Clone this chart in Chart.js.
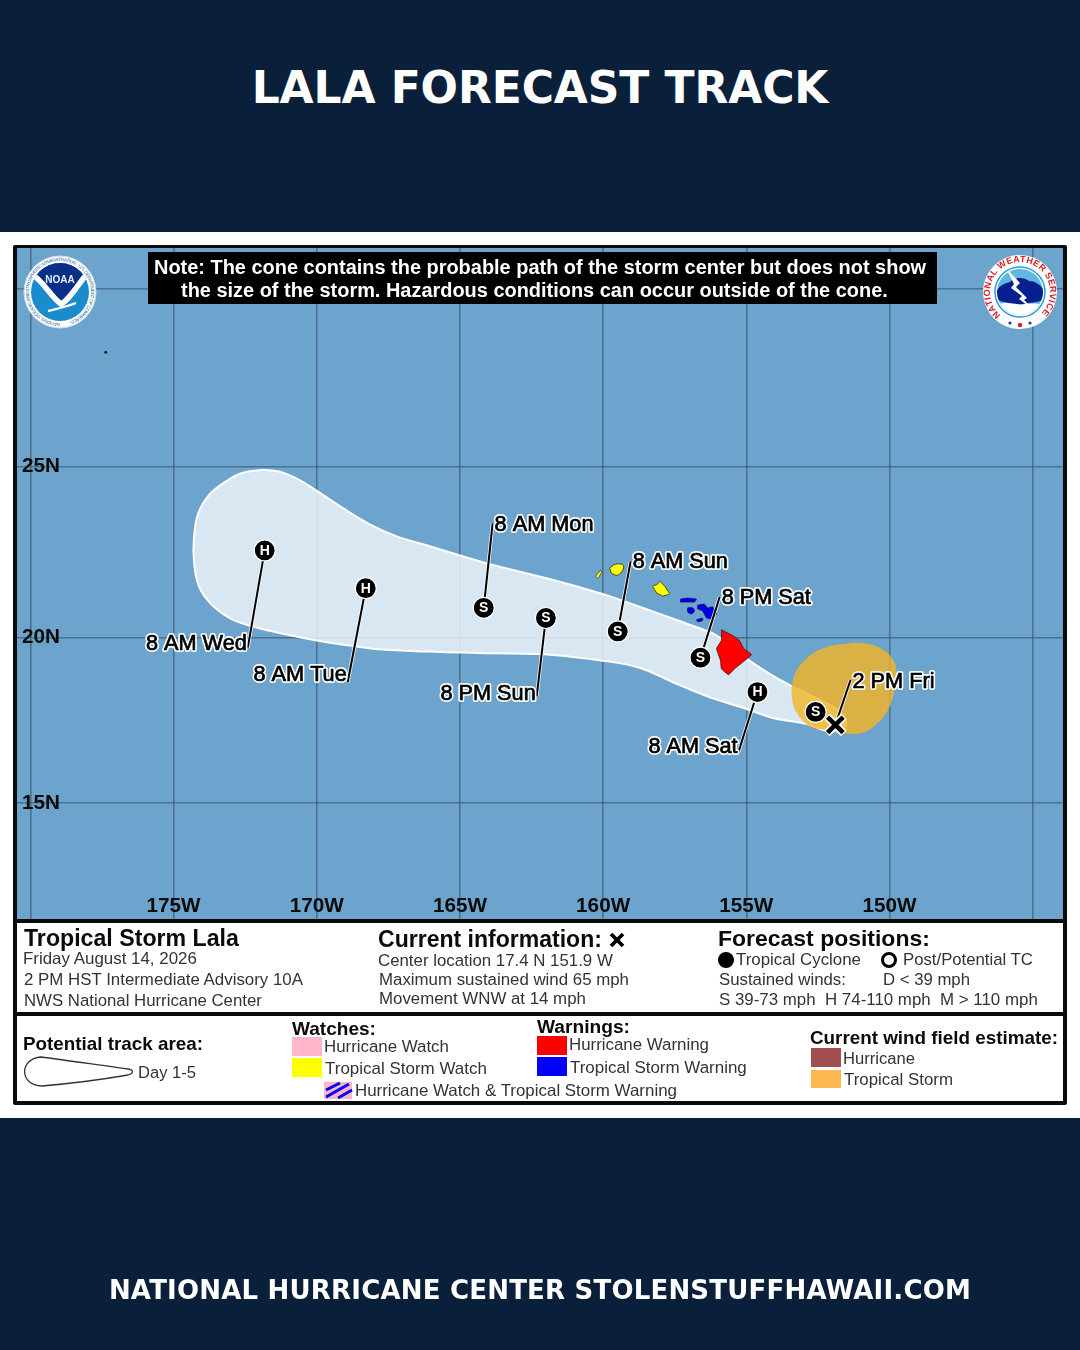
<!DOCTYPE html>
<html>
<head>
<meta charset="utf-8">
<script src="https://cdn.jsdelivr.net/npm/chart.js@4"></script>
<style>
html,body{margin:0;padding:0;background:#0a203a;width:1080px;height:1350px;overflow:hidden}
#band{position:absolute;left:0;top:232px;width:1080px;height:886px;background:#fff}
#frame{position:absolute;left:13px;top:245px;width:1046px;height:852px;border:4px solid #0a0a0a;border-radius:2px;background:#fff}
#div1,#div2{position:absolute;left:17px;width:1046px;background:#0a0a0a}
#div1{top:919px;height:4px}
#div2{top:1012px;height:4px}
#wrap{position:absolute;left:17px;top:248px;width:1046px;height:672px}
#title,#foot{position:absolute;left:0;width:1080px;text-align:center;color:#fff;font-family:"DejaVu Sans";font-weight:700;white-space:nowrap}
#title{top:62px;font-size:44px;line-height:52px;letter-spacing:-.1px}
#foot{top:1274px;font-size:26px;line-height:32px;letter-spacing:.2px}
#note{position:absolute;left:148px;top:252px;width:789px;height:52px;background:#000}
.t{position:absolute;white-space:pre;font-family:"Liberation Sans";line-height:1;transform:translateY(-50%);color:#333}
.b{font-weight:700;color:#0b0b0b}
.w{font-weight:700;color:#fff}
#overlay{position:absolute;left:0;top:0}
canvas{display:block}
#wrap canvas{background:#6da4cd}
</style>
</head>
<body>
<div id="title">LALA FORECAST TRACK</div>
<div id="band"></div>
<div id="frame"></div>
<div id="wrap"><canvas id="c" width="1046" height="672"></canvas></div>
<div id="div1"></div><div id="div2"></div>
<div id="note"></div>
<svg id="overlay" width="1080" height="1350" viewBox="0 0 1080 1350" xmlns="http://www.w3.org/2000/svg">
  <defs>
    <path id="noaaRing" d="M60,323 A31,31 0 1 1 60.01,323"/>
    <path id="nwsTop" d="M1000.7,315 A30,30 0 1 1 1039.3,315"/>
    <clipPath id="nwsClip"><circle cx="1020" cy="292" r="23"/></clipPath>
    <clipPath id="noaaClip"><circle cx="60" cy="292" r="29"/></clipPath>
  </defs>
  <!-- NOAA logo -->
  <circle cx="60" cy="292" r="36" fill="#fff" stroke="#c9dcec" stroke-width="1"/>
  <text font-family="Liberation Sans" font-size="4.6" fill="#3a6ea5"><textPath href="#noaaRing" textLength="186">NATIONAL OCEANIC AND ATMOSPHERIC ADMINISTRATION · U.S. DEPARTMENT OF COMMERCE ·</textPath></text>
  <g clip-path="url(#noaaClip)">
    <rect x="30" y="262" width="60" height="60" fill="#1a8ccc"/>
    <path d="M34,262 H86 V274 C78,282 70,296 62,302 C52,296 44,282 34,274 Z" fill="#0a2f86"/>
    <path d="M31,274 C42,279 50,296 61,304 C69,300 77,286 89,271" fill="none" stroke="#fff" stroke-width="5.5"/>
    <path d="M48,311 C56,309 66,307 76,303" fill="none" stroke="#fff" stroke-width="2.4"/>
  </g>
  <text x="60" y="283" text-anchor="middle" font-family="Liberation Sans" font-weight="700" font-size="10" fill="#e8eefa">NOAA</text>
  <!-- NWS logo -->
  <circle cx="1020" cy="292" r="37" fill="#fff"/>
  <text font-family="Liberation Sans" font-weight="700" font-size="9" fill="#d8202a"><textPath href="#nwsTop" textLength="143" lengthAdjust="spacing">NATIONAL WEATHER SERVICE</textPath></text>
  <circle cx="1020" cy="292" r="25" fill="#fff" stroke="#2a9fd6" stroke-width="1.5"/>
  <g clip-path="url(#nwsClip)">
    <rect x="996" y="268" width="48" height="48" fill="#5fb8e0"/>
    <path d="M996,296 C995,288 1004,283 1010,282 C1014,277 1024,277 1029,281 C1037,281 1045,288 1045,296 C1042,304 1030,302 1024,304 C1016,307 1010,302 1004,302 C999,301 996,299 996,296 Z" fill="#0a1f8f"/>
    <path d="M998,304 C1010,301 1018,306 1026,304 C1032,303 1040,303 1044,306 V318 H996 Z" fill="#fff"/>
    <path d="M1006,268 L1020,283 L1016,287 L1027,298 L1024,300 L1040,315 L1019,299 L1022,296 L1011,288 L1014,284 Z" fill="#fff"/>
  </g>
  <circle cx="1010" cy="323" r="1.6" fill="#1a3f9f"/><circle cx="1020" cy="325" r="2.2" fill="#d8202a"/><circle cx="1030" cy="323" r="1.6" fill="#1a3f9f"/>
  <!-- legend marks -->
  <path d="M611,934 L623,946 M623,934 L611,946" fill="none" stroke="#000" stroke-width="3.8"/>
  <circle cx="726" cy="960" r="8" fill="#000"/>
  <circle cx="889" cy="960" r="6.5" fill="#fff" stroke="#000" stroke-width="3"/>
  <path d="M41,1057 C20,1058 18,1085 42,1086 C65,1084 105,1079 128,1075 C134,1073 134,1070 128,1069 C105,1066 65,1060 41,1057 Z" fill="#fff" stroke="#333" stroke-width="1.3"/>
  <rect x="292" y="1037" width="30" height="19" fill="#ffb6c8"/>
  <rect x="292" y="1058" width="30" height="19" fill="#ffff00"/>
  <rect x="324" y="1082" width="28" height="17" fill="#ffb6c8"/>
  <path d="M326,1090 L340,1083 M326,1097 L349,1084 M338,1098 L352,1090" stroke="#0000ff" stroke-width="3" fill="none"/>
  <rect x="537" y="1036" width="30" height="19" fill="#ff0000"/>
  <rect x="537" y="1057" width="30" height="19" fill="#0000ff"/>
  <rect x="811" y="1048" width="30" height="19" fill="#a34f52"/>
  <rect x="811" y="1070" width="30" height="18" fill="#fdb94f"/>
</svg>
<div id="foot">NATIONAL HURRICANE CENTER STOLENSTUFFHAWAII.COM</div>
<script>
// ---------- Map axes ----------
const lonTicks = [180, 175, 170, 165, 160, 155, 150, 145];
const lonLabels = [175, 170, 165, 160, 155, 150];
const latTicks = [15, 20, 25, 30];
const latLabels = [15, 20, 25];

// ---------- Forecast track (degrees west, degrees north) ----------
const forecastTimes = ['8 AM Wed','8 AM Tue','8 AM Mon','8 PM Sun','8 AM Sun','8 PM Sat','8 AM Sat'];
const forecastLon = [171.82,168.29,164.17,162.0,159.49,156.6,154.61,152.58];
const forecastLat = [22.57,21.46,20.88,20.58,20.18,19.4,18.37,17.77];
const forecastClass = ['H','H','S','S','S','S','H','S'];
const currentLon = 151.89;
const currentLat = 17.38;
const currentTime = '2 PM Fri';

// ---------- Label leader ends ----------
const leaderLon = [172.41,168.92,163.86,162.32,159.04,155.93,155.27];
const leaderLat = [19.7,18.67,23.36,18.25,22.25,21.2,16.57];
const currentLeaderLon = 151.36;
const currentLeaderLat = 18.73;

// ---------- Forecast cone outline ----------
const coneOutline = [
[171.88,24.91],[171.29,24.85],[170.7,24.65],[170,24.3],[169.09,23.8],[168.15,23.33],[167.21,22.98],[166.06,22.69],[164.91,22.4],
[163.72,22.11],[161.87,21.73],[160.02,21.29],[159.18,21.05],[158.03,20.7],[156.88,20.35],[156.04,20.06],[154.89,19.31],
[154.08,18.86],[153.42,18.55],[152.69,18.25],[151.85,17.86],[151.54,17.56],[151.57,17.26],[152.2,17.2],[152.9,17.41],
[154.08,17.59],[154.99,17.86],[156.39,18.25],[157.58,18.67],[158.73,19.1],[160.02,19.31],[161.87,19.49],[163.16,19.52],
[164.91,19.55],[166.06,19.58],[167.7,19.64],[168.85,19.76],[170,19.91],[171.64,20.2],[172.86,20.5],[173.63,20.94],
[174.12,21.52],[174.29,22.25],[174.29,22.92],[174.15,23.63],[173.73,24.21],[173.14,24.59],[172.58,24.82],[171.88,24.91]];

// ---------- Current tropical storm wind field ----------
const windField = [
[153.42,18.55],[153.25,19.01],[152.9,19.37],[152.34,19.67],[151.5,19.82],[150.8,19.82],[150.18,19.61],[149.86,19.31],
[149.76,19.01],[149.83,18.4],[150.07,17.8],[150.45,17.41],[150.94,17.14],[151.5,17.11],[152.09,17.2],[152.79,17.35],
[153.21,17.71],[153.39,18.1],[153.42,18.55]];

// ---------- Islands ----------
const bigIsland = [[155.87,20.23],[155.48,20.06],[155.24,19.91],[155.09,19.67],[154.82,19.49],[155.06,19.31],[155.41,19.07],[155.62,18.89],[155.87,19.07],[155.9,19.31],[156.04,19.67],[155.87,19.91],[155.87,20.23]];
const molokai = [[157.3,21.14],[157.05,21.17],[156.74,21.14],[156.81,21.05],[157.09,21.05],[157.3,21.05],[157.3,21.14]];
const maui = [[156.7,20.96],[156.46,20.99],[156.35,20.88],[156.18,20.91],[156.04,20.7],[156.21,20.56],[156.39,20.58],[156.53,20.79],[156.7,20.85],[156.7,20.96]];
const lanai = [[157.05,20.88],[156.88,20.88],[156.81,20.79],[156.91,20.7],[157.05,20.76],[157.05,20.88]];
const kahoolawe = [[156.74,20.53],[156.53,20.58],[156.53,20.5],[156.7,20.47],[156.74,20.53]];
const oahu = [[158.03,21.67],[157.85,21.52],[157.68,21.29],[157.92,21.23],[158.13,21.32],[158.27,21.52],[158.1,21.58],[158.03,21.67]];
const kauai = [[159.77,22.05],[159.6,22.16],[159.32,22.16],[159.29,22.02],[159.49,21.84],[159.7,21.9],[159.77,22.05]];
const niihau = [[160.09,21.99],[160.05,21.93],[160.19,21.75],[160.26,21.81],[160.09,21.99]];
const midway = [[177.37,28.23]];

// ---------- Information panels: text, left, middle, width, style ----------
const panelTexts = [
['Note: The cone contains the probable path of the storm center but does not show',154,267,773,'w'],
['the size of the storm. Hazardous conditions can occur outside of the cone.',181,290,707,'w'],
['Tropical Storm Lala',24,938,215,'b'],
['Friday August 14, 2026',23,958,174,''],
['2 PM HST Intermediate Advisory 10A',24,979,279,''],
['NWS National Hurricane Center',24,1000,238,''],
['Current information:',378,939,224,'b'],
['Center location 17.4 N 151.9 W',378,960,235,''],
['Maximum sustained wind 65 mph',379,979,250,''],
['Movement WNW at 14 mph',379,998,207,''],
['Forecast positions:',718,937,212,'b'],
['Tropical Cyclone',736,959,125,''],
['Post/Potential TC',903,959,130,''],
['Sustained winds:',719,979,127,''],
['D < 39 mph',883,979,87,''],
['S 39-73 mph  H 74-110 mph  M > 110 mph',719,999,319,''],
['Potential track area:',23,1043,180,'b'],
['Day 1-5',138,1072,58,''],
['Watches:',292,1028,84,'b'],
['Hurricane Watch',324,1046,125,''],
['Tropical Storm Watch',325,1067,162,''],
['Hurricane Watch & Tropical Storm Warning',355,1090,322,''],
['Warnings:',537,1026,93,'b'],
['Hurricane Warning',569,1044,140,''],
['Tropical Storm Warning',570,1067,177,''],
['Current wind field estimate:',810,1037,248,'b'],
['Hurricane',843,1058,72,''],
['Tropical Storm',844,1079,109,'']
];

panelTexts.forEach(([text, x, y, w, cls]) => {
  const el = document.createElement('div');
  el.className = 't ' + cls;
  el.textContent = text;
  el.style.left = x + 'px';
  el.style.top = (y + 0.7) + 'px';
  el.style.fontSize = '18px';
  document.body.appendChild(el);
  const m = el.getBoundingClientRect().width;
  el.style.fontSize = (18 * w / m).toFixed(2) + 'px';
});

// ---------- Mercator latitude scale ----------
const merc = lat => Math.log(Math.tan(Math.PI / 4 + lat * Math.PI / 360));
const unmerc = v => (2 * Math.atan(Math.exp(v)) - Math.PI / 2) * 180 / Math.PI;
class MercatorScale extends Chart.LinearScale {
  getPixelForValue(v) {
    return this.getPixelForDecimal((merc(v) - merc(this.min)) / (merc(this.max) - merc(this.min)));
  }
  getValueForPixel(p) {
    const d = this.getDecimalForPixel(p);
    return unmerc(merc(this.min) + d * (merc(this.max) - merc(this.min)));
  }
}
MercatorScale.id = 'mercator';
MercatorScale.defaults = Chart.LinearScale.defaults;
Chart.register(MercatorScale);

// ---------- Datasets ----------
const pts = list => list.map(([x, y]) => ({x, y}));
const shape = (list, fillColor, lineColor, lineWidth, tension, order) => ({
  data: pts(list), showLine: true, fill: 'shape', backgroundColor: fillColor,
  borderColor: lineColor, borderWidth: lineWidth, tension, pointRadius: 0, order
});
const datasets = [
  shape(coneOutline, 'rgba(235,243,247,0.85)', '#ffffff', 2, 0.35, 100),
  shape(windField, 'rgba(245,180,35,0.8)', 'rgba(245,180,35,0)', 0, 0.4, 90),
  shape(bigIsland, '#ff0000', '#4a1010', 0.8, 0.1, 80),
  shape(molokai, '#0000e0', '#101050', 0.6, 0.1, 80),
  shape(maui, '#0000e0', '#101050', 0.6, 0.2, 80),
  shape(lanai, '#0000e0', '#101050', 0.6, 0.3, 80),
  shape(kahoolawe, '#0000e0', '#101050', 0.6, 0.2, 80),
  shape(oahu, '#ffff00', '#404010', 1, 0.1, 80),
  shape(kauai, '#ffff00', '#404010', 1, 0.3, 80),
  shape(niihau, '#ffff00', '#404010', 0.8, 0.1, 80),
  {data: pts(midway), pointRadius: 1.4, pointBackgroundColor: '#111', pointBorderWidth: 0, showLine: false, order: 80}
];
const leader = (x0, y0, x1, y1) => {
  const data = [{x: x0, y: y0}, {x: x1, y: y1}];
  datasets.push({data, showLine: true, borderColor: 'rgba(255,255,255,0.9)', borderWidth: 3.6, pointRadius: 0, order: 60});
  datasets.push({data, showLine: true, borderColor: '#000', borderWidth: 2, pointRadius: 0, order: 59});
};
forecastTimes.forEach((_, i) => leader(forecastLon[i], forecastLat[i], leaderLon[i], leaderLat[i]));
leader(currentLon, currentLat, currentLeaderLon, currentLeaderLat);

const markerData = forecastLon.map((x, i) => ({x, y: forecastLat[i]}));
datasets.push({
  label: 'forecast', data: markerData, showLine: false, pointStyle: 'circle', pointRadius: 10.5,
  pointBackgroundColor: '#000', pointBorderColor: '#fff', pointBorderWidth: 1.2, order: 50
});
datasets.push({data: [{x: currentLon, y: currentLat}], showLine: false, pointStyle: 'crossRot', pointRadius: 12, pointBorderColor: '#fff', pointBorderWidth: 8, order: 45});
datasets.push({data: [{x: currentLon, y: currentLat}], showLine: false, pointStyle: 'crossRot', pointRadius: 11, pointBorderColor: '#000', pointBorderWidth: 4.6, order: 44});

// Text vertical nudges and anchoring for time labels
const labelSide = ['right','right','left','right','left','left','right'];
const labelNudge = [-4,-7,2,-2,1,1,-5];

const annotate = {
  id: 'annotate',
  afterDatasetsDraw(chart) {
    const ctx = chart.ctx, X = chart.scales.x, Y = chart.scales.y;
    ctx.save();
    const meta = chart.getDatasetMeta(datasets.findIndex(d => d.label === 'forecast'));
    ctx.textAlign = 'center'; ctx.textBaseline = 'middle';
    ctx.font = 'bold 14px "Liberation Sans"'; ctx.fillStyle = '#fff';
    meta.data.forEach((p, i) => ctx.fillText(forecastClass[i], p.x, p.y + 0.5));
    ctx.font = '21.7px "Liberation Sans"'; ctx.lineJoin = 'round';
    const draw = (t, x, y, side, nudge) => {
      const px = X.getPixelForValue(x) + (side === 'left' ? 2 : -1);
      const py = Y.getPixelForValue(y) + nudge;
      ctx.textAlign = side;
      ctx.strokeStyle = 'rgba(255,255,255,0.95)'; ctx.lineWidth = 4; ctx.strokeText(t, px, py);
      ctx.strokeStyle = '#000'; ctx.lineWidth = 0.7; ctx.strokeText(t, px, py);
      ctx.fillStyle = '#000'; ctx.fillText(t, px, py);
    };
    forecastTimes.forEach((t, i) => draw(t, leaderLon[i], leaderLat[i], labelSide[i], labelNudge[i]));
    draw(currentTime, currentLeaderLon, currentLeaderLat, 'left', 2);
    ctx.restore();
  }
};

const zeroPadding = s => { s.paddingTop = 0; s.paddingBottom = 0; s.paddingLeft = 0; s.paddingRight = 0; };
const gridStyle = {color: 'rgba(55,80,105,0.6)', lineWidth: 1.6, drawTicks: false};

new Chart(document.getElementById('c'), {
  type: 'scatter',
  data: {datasets},
  plugins: [annotate],
  options: {
    responsive: false, animation: false, devicePixelRatio: 1,
    layout: {padding: 0, autoPadding: false},
    plugins: {legend: {display: false}, tooltip: {enabled: false}, title: {display: false}},
    scales: {
      x: {
        type: 'linear', reverse: true, min: 143.94, max: 180.47, position: 'bottom',
        afterBuildTicks: s => { s.ticks = lonTicks.map(value => ({value})); },
        afterFit: s => { s.height = 0; zeroPadding(s); },
        border: {display: false},
        grid: gridStyle,
        ticks: {
          mirror: true, padding: 1, autoSkip: false, maxRotation: 0, color: '#0b0b0b',
          font: {family: 'Liberation Sans', size: 20.7, weight: 'bold'},
          callback: v => lonLabels.includes(v) ? v + 'W' : ''
        }
      },
      y: {
        type: 'mercator', min: 11.4, max: 31.1, position: 'left',
        afterBuildTicks: s => { s.ticks = latTicks.map(value => ({value})); },
        afterFit: s => { s.width = 0; zeroPadding(s); },
        border: {display: false},
        grid: gridStyle,
        ticks: {
          mirror: true, padding: 5, autoSkip: false, color: '#0b0b0b',
          font: {family: 'Liberation Sans', size: 20.7, weight: 'bold'},
          callback: v => latLabels.includes(v) ? v + 'N' : ''
        }
      }
    }
  }
});
</script>
</body>
</html>
